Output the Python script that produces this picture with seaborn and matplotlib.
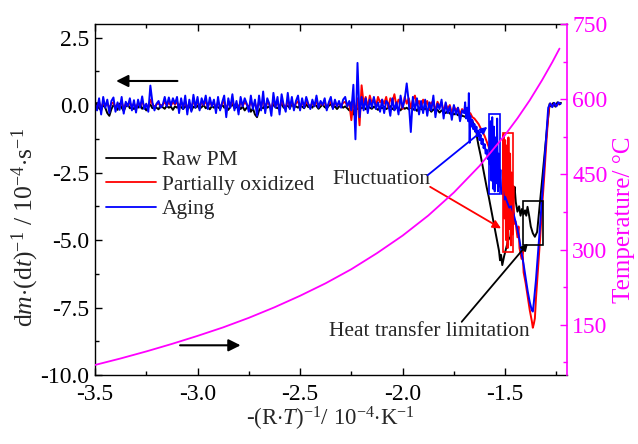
import numpy as np
import pandas as pd
import matplotlib
matplotlib.use("Agg")
import matplotlib.pyplot as plt
import seaborn as sns
from matplotlib.patches import Rectangle
from matplotlib.ticker import MultipleLocator

# ---------------- data ----------------
# baseline region: x from -3.50 to -1.71, step 0.01 (180 samples)
base_start, base_step, base_n = -3.50, 0.01, 180

raw_base = [
    -0.05, 0.08, -0.12, -0.20, 0.02, -0.10, -0.30, -0.40, -0.15, 0.00, -0.08, -0.18, 0.05, -0.10, -0.22, -0.05, 0.03, -0.12, -0.08, -0.15,
    -0.02, -0.10, 0.04, -0.14, -0.06, -0.20, -0.08, 0.02, -0.12, -0.04, -0.10, -0.16, 0.00, -0.08, -0.14, -0.03, -0.10, -0.06, -0.18, -0.05,
    -0.10, 0.02, -0.08, -0.15, -0.04, -0.12, -0.02, -0.20, -0.06, -0.10, -0.03, -0.14, -0.08, 0.00, -0.12, -0.06, -0.16, -0.04, -0.10, -0.02,
    -0.08, -0.14, 0.02, -0.10, -0.05, -0.18, -0.06, 0.04, -0.12, -0.08, -0.02, -0.15, -0.06, -0.20, -0.10, -0.04, -0.25, -0.12, -0.35, -0.45,
    -0.20, -0.08, -0.12, 0.02, -0.10, -0.05, -0.14, 0.03, -0.08, -0.12, -0.04, 0.05, -0.10, -0.06, -0.02, -0.12, 0.04, -0.08, -0.05, -0.10,
    0.00, -0.06, -0.12, 0.03, -0.08, -0.02, -0.10, 0.05, -0.04, -0.14, -0.06, 0.02, -0.08, -0.12, -0.03, 0.04, -0.10, -0.05, -0.15, -0.06,
    -0.02, -0.10, -0.05, -0.12, -0.20, 0.10, -0.35, -0.08, -0.15, -0.05, -0.12, -0.08, -0.16, -0.04, -0.10, -0.14, -0.06, -0.12, -0.18, -0.08,
    -0.12, -0.06, -0.15, -0.10, -0.04, -0.14, -0.18, -0.08, -0.12, -0.20, -0.06, -0.14, -0.10, -0.16, -0.08, -0.18, -0.12, -0.22, -0.10, -0.15,
    -0.18, -0.12, -0.20, -0.14, -0.25, -0.16, -0.22, -0.18, -0.28, -0.20, -0.24, -0.30, -0.22, -0.32, -0.26, -0.35, -0.30, -0.38, -0.34, -0.40,
]
ox_base = [
    0.00, -0.10, 0.12, -0.15, 0.10, -0.05, 0.08, -0.12, 0.05, 0.10, -0.10, 0.04, -0.08, 0.12, -0.14, 0.05, -0.02, 0.10, -0.08, 0.06,
    -0.12, 0.08, -0.04, 0.14, -0.06, 0.02, -0.10, 0.20, 0.04, -0.08, 0.02, 0.06, -0.04, 0.00, 0.12, -0.02, 0.10, -0.01, 0.10, 0.02,
    0.12, -0.12, 0.10, -0.06, 0.14, -0.14, 0.08, -0.10, 0.15, -0.04, 0.12, -0.08, 0.10, 0.00, 0.14, -0.06, 0.11, -0.02, 0.08, -0.12,
    0.12, -0.08, 0.04, 0.14, -0.18, 0.10, -0.04, 0.16, -0.08, 0.06, -0.14, 0.12, -0.02, 0.10, 0.02, -0.10, 0.14, -0.06, 0.08, -0.16,
    0.14, -0.08, 0.20, -0.12, 0.10, 0.02, -0.16, 0.18, -0.04, 0.12, -0.14, 0.16, 0.00, -0.10, 0.18, -0.06, 0.12, -0.08, 0.06, 0.14,
    -0.08, 0.10, -0.04, 0.12, 0.02, -0.06, 0.08, -0.02, 0.14, -0.04, 0.06, 0.00, 0.10, -0.08, 0.04, 0.12, -0.06, 0.08, -0.02, 0.06,
    -0.04, 0.08, 0.12, -0.02, 0.06, -0.56, 0.10, -0.20, 0.25, -0.75, 0.73, 0.05, 0.30, -0.10, 0.35, 0.05, 0.25, -0.05, 0.30, 0.10,
    0.20, 0.05, 0.30, -0.10, 0.25, 0.10, 0.40, -0.05, 0.20, 0.15, -0.15, 0.30, 0.05, 0.25, -0.10, 0.20, 0.35, 0.00, 0.15, -0.10,
    0.20, 0.00, 0.15, -0.15, 0.10, 0.05, -0.20, 0.12, -0.05, 0.10, -0.25, 0.05, -0.15, 0.00, -0.30, -0.05, -0.20, -0.10, -0.35, -0.15,
]
aging_base = [
    0.05, -0.20, 0.25, -0.35, 0.30, -0.10, 0.20, -0.30, 0.15, 0.28, -0.25, 0.10, -0.18, 0.30, -0.32, 0.12, -0.05, 0.25, -0.20, 0.18,
    -0.28, 0.20, -0.10, 0.32, -0.15, 0.05, -0.25, 0.72, 0.10, -0.20, 0.05, 0.15, -0.10, 0.00, 0.30, -0.05, 0.28, -0.02, 0.25, 0.05,
    0.30, -0.30, 0.25, -0.15, 0.35, -0.35, 0.20, -0.25, 0.38, -0.10, 0.30, -0.20, 0.25, 0.00, 0.35, -0.15, 0.28, -0.05, 0.20, -0.30,
    0.30, -0.20, 0.10, 0.35, -0.45, 0.25, -0.10, 0.40, -0.20, 0.15, -0.35, 0.30, -0.05, 0.25, 0.05, -0.25, 0.35, -0.15, 0.20, -0.40,
    0.35, -0.20, 0.50, -0.30, 0.25, 0.05, -0.40, 0.45, -0.10, 0.30, -0.35, 0.40, 0.00, -0.25, 0.45, -0.15, 0.30, -0.20, 0.15, 0.35,
    -0.20, 0.25, -0.10, 0.30, 0.05, -0.15, 0.20, -0.05, 0.35, -0.10, 0.15, 0.00, 0.25, -0.20, 0.10, 0.30, -0.15, 0.20, -0.05, 0.15,
    -0.10, 0.20, 0.30, -0.05, 0.15, -0.20, 0.75, -1.27, 1.56, -0.45, 0.30, -0.20, 0.25, -0.30, 0.20, -0.10, 0.30, -0.15, 0.10, -0.25,
    0.20, -0.30, 0.15, 0.05, -0.40, 0.25, -0.20, 0.10, -0.35, 0.35, -0.10, 0.20, 0.80, 0.10, -1.00, 0.30, -0.20, 0.25, -0.35, 0.15,
    -0.30, 0.20, -0.40, 0.10, -0.20, 0.35, -0.45, 0.05, -0.15, 0.20, -0.50, 0.10, -0.30, -0.05, -0.55, 0.00, -0.35, -0.10, -0.60, -0.20,
]

# event region (explicit samples)
raw_ev_x = [-1.70, -1.68, -1.66, -1.65, -1.64, -1.636, -1.63, -1.62, -1.61, -1.60, -1.59, -1.58, -1.57, -1.56,
            -1.55, -1.54, -1.53, -1.525, -1.52, -1.514, -1.505, -1.495, -1.485, -1.474, -1.465, -1.458, -1.454,
            -1.448, -1.44, -1.432, -1.425, -1.418, -1.41, -1.403, -1.397, -1.391, -1.383, -1.375, -1.365, -1.355,
            -1.344, -1.335, -1.325, -1.315, -1.305, -1.295, -1.283, -1.275, -1.265, -1.255, -1.245, -1.235, -1.228]
raw_ev_y = [-0.42, -0.50, -0.60, -0.75, -1.00, -1.25, -1.50, -1.85, -2.25, -2.65, -3.05, -3.40, -3.80, -4.20,
            -4.60, -5.00, -5.40, -5.75, -5.55, -5.93, -5.60, -5.30, -5.00, -4.88, -4.00, -3.30, -3.03,
            -3.60, -3.95, -3.75, -4.10, -3.85, -4.05, -3.90, -4.10, -3.77, -4.10, -4.50, -4.75, -4.88,
            -4.70, -4.00, -3.20, -2.40, -1.60, -0.80, 0.05, -0.05, 0.08, -0.06, 0.10, 0.02, 0.08]

ox_ev_x = [-1.70, -1.69, -1.68, -1.67, -1.66, -1.65, -1.64, -1.63, -1.62, -1.61, -1.60, -1.59, -1.58, -1.57,
           -1.56, -1.55, -1.54, -1.53, -1.52, -1.512,
           -1.508, -1.504, -1.500, -1.496, -1.492, -1.488, -1.484, -1.480, -1.476, -1.472, -1.468, -1.464, -1.460, -1.456,
           -1.45, -1.44, -1.435, -1.43, -1.42, -1.415, -1.41, -1.40, -1.39, -1.38, -1.37, -1.365, -1.36, -1.355,
           -1.35, -1.34, -1.33, -1.32, -1.31, -1.30, -1.29, -1.285, -1.28, -1.27, -1.26, -1.25, -1.24]
ox_ev_y = [-0.25, -0.15, -0.35, -0.30, -0.45, -0.50, -0.60, -0.70, -0.85, -1.00, -1.15, -1.35, -1.55, -1.85,
           -2.10, -2.40, -2.70, -2.95, -3.10, -3.30,
           -1.10, -4.20, -1.30, -5.00, -1.50, -5.30, -1.20, -4.60, -1.80, -5.20, -2.50, -4.80, -3.00, -4.40,
           -4.30, -4.90, -4.50, -5.30, -5.70, -5.40, -6.20, -6.60, -7.10, -7.60, -8.00, -8.25, -8.10, -7.90,
           -7.20, -6.10, -5.00, -3.80, -2.70, -1.50, -0.40, -0.05, 0.05, -0.05, 0.05, -0.02, 0.04]

aging_ev_x = [-1.70, -1.695, -1.69, -1.685, -1.68, -1.677, -1.673, -1.67, -1.665, -1.66, -1.655, -1.65, -1.645,
              -1.64, -1.635, -1.63, -1.625, -1.62, -1.615, -1.61, -1.605, -1.60, -1.595, -1.59, -1.585, -1.58, -1.575,
              -1.571, -1.567, -1.563, -1.559, -1.555, -1.551, -1.547, -1.543, -1.539, -1.535, -1.531, -1.527, -1.523,
              -1.52, -1.515, -1.51, -1.505, -1.50, -1.49, -1.48, -1.47, -1.46, -1.45, -1.44, -1.43, -1.42, -1.41,
              -1.40, -1.39, -1.38, -1.37, -1.365, -1.36, -1.35, -1.34, -1.33, -1.32, -1.31, -1.30, -1.29,
              -1.28, -1.27, -1.26, -1.25, -1.24, -1.23]
aging_ev_y = [-0.30, 0.10, -0.50, -0.10, -0.60, 0.44, -1.40, -0.40, -0.80, -0.55, -0.90, -0.70, -1.00,
              -0.80, -1.15, -0.95, -1.30, -1.10, -1.45, -1.25, -1.60, -1.45, -1.80, -1.65, -2.00, -1.85, -2.20,
              -0.60, -2.80, -0.45, -3.10, -0.80, -3.20, -1.20, -2.90, -0.50, -3.20, -1.80, -3.00, -2.40,
              -3.10, -3.30, -3.20, -3.50, -3.40, -3.60, -3.80, -3.75, -4.00, -4.30, -4.60, -5.00, -5.50, -5.90,
              -6.40, -6.90, -7.30, -7.60, -7.65, -7.30, -6.50, -5.50, -4.50, -3.40, -2.30, -1.20, -0.10,
              0.06, -0.08, 0.08, -0.05, 0.10, 0.04]

# temperature curve (right axis)
temp_x = [-3.500, -3.375, -3.250, -3.125, -3.000, -2.875, -2.750, -2.625, -2.500, -2.375, -2.250,
          -2.125, -2.000, -1.875, -1.750, -1.625, -1.500, -1.440, -1.380, -1.320, -1.270, -1.235]
temp_c = [70, 83, 97, 112, 128, 145, 164, 185, 208, 233, 261,
          293, 328, 368, 414, 467, 529, 562, 598, 638, 674, 701]

series_names = ["Raw PM", "Partially oxidized", "Aging"]
series_colors = ["#000000", "#ff0000", "#0000ff"]

# annotation boxes: (x0, y0, x1, y1, colour)
boxes = [(-1.577, -3.30, -1.523, -0.35, "#0000ff"),
         (-1.512, -5.45, -1.463, -1.05, "#ff0000"),
         (-1.413, -5.17, -1.313, -3.55, "#000000")]

# ---------------- build frames ----------------
x_base = np.round(base_start + base_step * np.arange(base_n), 3)
frames = []
for name, yb, exs, eys in [("Raw PM", raw_base, raw_ev_x, raw_ev_y),
                           ("Partially oxidized", ox_base, ox_ev_x, ox_ev_y),
                           ("Aging", aging_base, aging_ev_x, aging_ev_y)]:
    xs = np.concatenate([x_base, np.array(exs)])
    ys = np.concatenate([np.array(yb), np.array(eys)])
    frames.append(pd.DataFrame({"x": xs, "y": ys, "series": name}))
df = pd.concat(frames, ignore_index=True)
tdf = pd.DataFrame({"x": temp_x, "T": temp_c})

# ---------------- style ----------------
sns.set_style("ticks")
plt.rcParams["font.family"] = ["Liberation Serif", "DejaVu Serif"]
plt.rcParams["mathtext.fontset"] = "custom"
plt.rcParams["mathtext.rm"] = "Liberation Serif"
plt.rcParams["mathtext.it"] = "Liberation Serif:italic"
plt.rcParams["axes.unicode_minus"] = False

fig = plt.figure(figsize=(6.38, 4.44), dpi=100)
ax = fig.add_axes([0.1489, 0.1554, 0.7393, 0.7905])

for name, col in zip(series_names, series_colors):
    sub = df[df["series"] == name]
    sns.lineplot(data=sub, x="x", y="y", ax=ax, color=col, lw=1.4,
                 estimator=None, sort=False, label=name)

ax.set_xlim(-3.5, -1.2)
ax.set_ylim(-10.0, 3.0)
ax.xaxis.set_major_locator(MultipleLocator(0.5))
ax.xaxis.set_minor_locator(MultipleLocator(0.25))
ax.yaxis.set_major_locator(MultipleLocator(2.5))
ax.yaxis.set_minor_locator(MultipleLocator(1.25))
ax.yaxis.set_major_formatter(matplotlib.ticker.FormatStrFormatter("%.1f"))
ax.xaxis.set_major_formatter(matplotlib.ticker.FormatStrFormatter("%.1f"))
ax.tick_params(which="both", direction="in", top=True, right=False, labelsize=17,
               colors="black", width=1.0)
ax.tick_params(which="major", length=5)
ax.tick_params(which="minor", length=3)
ax.tick_params(axis="x", which="major", pad=6.5)
ax.tick_params(axis="y", which="major", pad=4)
for s in ["left", "bottom", "top"]:
    ax.spines[s].set_linewidth(1.0)
    ax.spines[s].set_color("black")
ax.spines["right"].set_visible(False)

ax.set_xlabel(r"-(R$\cdot$$\mathit{T}$)$^{-1}$/ 10$^{-4}$$\cdot$K$^{-1}$", fontsize=16.5, labelpad=0)
ax.set_ylabel(r"d$\mathit{m}$$\cdot$(d$\mathit{t}$)$^{-1}$ / 10$^{-4}$$\cdot$s$^{-1}$", fontsize=18.5)
ax.yaxis.set_label_coords(-0.115, 0.42)

leg = ax.legend(loc="upper left", bbox_to_anchor=(0.023, 0.64), frameon=False, fontsize=15.5,
                handlelength=2.35, handletextpad=0.25, labelspacing=0.2, borderpad=0, borderaxespad=0)
for h in leg.get_lines():
    h.set_linewidth(1.3)

# boxes
for x0, y0, x1, y1, c in boxes:
    ax.add_patch(Rectangle((x0, y0), x1 - x0, y1 - y0, fill=False, edgecolor=c, lw=1.2, zorder=5))

# arrows indicating axes
arr = dict(arrowstyle="-|>", color="black", lw=1.5, mutation_scale=18, shrinkA=0, shrinkB=0)
ax.annotate("", xy=(-3.397, 0.89), xytext=(-3.098, 0.89), arrowprops=arr)
ax.annotate("", xy=(-2.79, -8.9), xytext=(-3.085, -8.9), arrowprops=arr)

# text annotations
ax.text(-2.344, -2.76, "Fluctuation", fontsize=15.5, ha="left", va="center")
ax.text(-2.357, -8.4, "Heat transfer limitation", fontsize=15.5, ha="left", va="center")
ax.annotate("", xy=(-1.587, -0.81), xytext=(-1.878, -2.6),
            arrowprops=dict(arrowstyle="-|>", color="#0000ff", lw=1.3, mutation_scale=10, shrinkA=0, shrinkB=0))
ax.annotate("", xy=(-1.52, -4.57), xytext=(-1.866, -3.03),
            arrowprops=dict(arrowstyle="-|>", color="#ff0000", lw=1.3, mutation_scale=12, shrinkA=0, shrinkB=0))
ax.annotate("", xy=(-1.389, -5.13), xytext=(-1.712, -8.03),
            arrowprops=dict(arrowstyle="-|>", color="black", lw=1.3, mutation_scale=10, shrinkA=0, shrinkB=0))

# right axis: temperature
ax2 = ax.twinx()
sns.lineplot(data=tdf, x="x", y="T", ax=ax2, color="#ff00ff", lw=1.3, estimator=None, sort=False)
ax2.set_ylim(50, 750)
ax2.yaxis.set_major_locator(MultipleLocator(150))
ax2.yaxis.set_minor_locator(matplotlib.ticker.FixedLocator([75, 225, 375, 525, 675]))
ax2.tick_params(axis="y", which="both", direction="in", colors="#ff00ff", labelsize=17, width=1.0)
ax2.tick_params(axis="y", which="major", length=5, pad=4)
ax2.tick_params(axis="y", which="minor", length=3)
ax2.spines["right"].set_color("#ff00ff")
ax2.spines["right"].set_linewidth(1.2)
for s in ["left", "bottom", "top"]:
    ax2.spines[s].set_visible(False)
ax2.set_xlabel("")
ax2.set_ylabel("")
ax2.set_xlim(-3.5, -1.2)

fig.text(0.996, 0.505, "Temperature/ °C", color="#ff00ff", fontsize=18,
         rotation=90, ha="right", va="center")

fig.savefig("out.png", dpi=100)
